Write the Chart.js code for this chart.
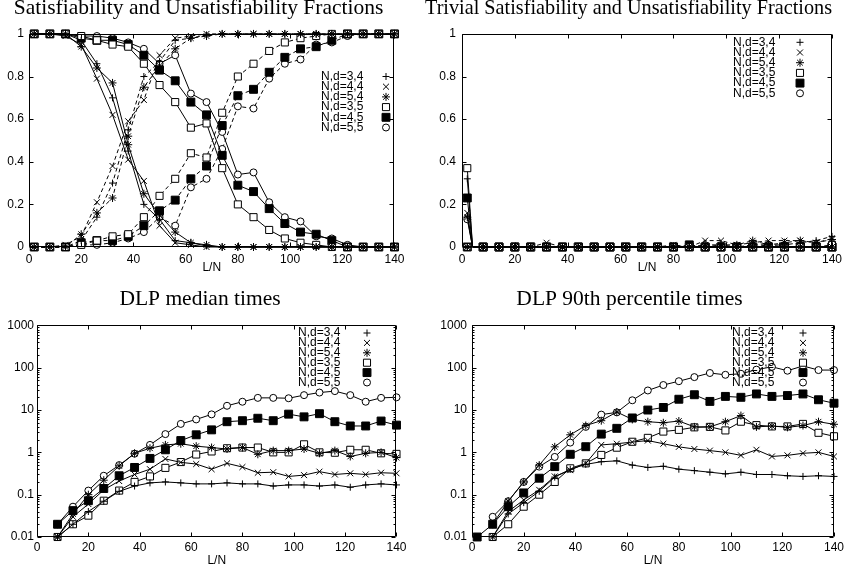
<!DOCTYPE html>
<html><head><meta charset="utf-8">
<script src="https://cdn.jsdelivr.net/npm/chart.js@4.4.1/dist/chart.umd.min.js"></script>
<style>
html,body{margin:0;padding:0;background:#fff;}
#wrap{position:relative;width:850px;height:567px;overflow:hidden;background:#fff;}
canvas{position:absolute;}
</style></head><body>
<div id="wrap">
<canvas id="c1" width="410" height="283" style="left:0;top:0"></canvas>
<canvas id="c2" width="425" height="283" style="left:425px;top:0"></canvas>
<canvas id="c3" width="410" height="284" style="left:0;top:283px"></canvas>
<canvas id="c4" width="425" height="284" style="left:425px;top:283px"></canvas>
</div>
<script>
// ---------- data ----------
const SERIES_LABELS = ['N,d=3,4','N,d=4,4','N,d=5,4','N,d=3,5','N,d=4,5','N,d=5,5'];
const LN = [2,8,14,20,26,32,38,44,50,56,62,68,74,80,86,92,98,104,110,116,122,128,134,140];
const LN_TRIV = [2,4,8,14,20,26,32,38,44,50,56,62,68,74,80,86,92,98,104,110,116,122,128,134,140];
const X_TICKS = [0,20,40,60,80,100,120,140];
const FRAC_TICKS = [0,0.2,0.4,0.6,0.8,1];
const LOG_TICKS = [0.01,0.1,1,10,100,1000];
const LOG_TICK_LABELS = ['0.01','0.1','1','10','100','1000'];

// Panel 1: satisfiability (solid) / unsatisfiability (dashed) fractions
const SAT_34   = [1,1,1,0.97,0.86,0.70,0.45,0.20,0.13,0.03,0.02,0.005,0,0,0,0,0,0,0,0,0,0,0,0];
const UNSAT_34 = [0,0,0,0.03,0.14,0.30,0.55,0.80,0.87,0.97,0.98,0.995,1,1,1,1,1,1,1,1,1,1,1,1];
const SAT_44   = [1,1,0.99,0.95,0.79,0.62,0.41,0.31,0.10,0.02,0.01,0,0,0,0,0,0,0,0,0,0,0,0,0];
const UNSAT_44 = [0,0,0.01,0.05,0.21,0.38,0.59,0.69,0.90,0.98,0.99,1,1,1,1,1,1,1,1,1,1,1,1,1];
const SAT_54   = [1,1,1,0.94,0.84,0.77,0.48,0.25,0.15,0.07,0.02,0.01,0,0,0,0,0,0,0,0,0,0,0,0];
const UNSAT_54 = [0,0,0,0.06,0.16,0.23,0.52,0.75,0.85,0.93,0.98,0.99,1,1,1,1,1,1,1,1,1,1,1,1];
const SAT_35   = [1,1,1,0.99,0.97,0.95,0.94,0.86,0.76,0.68,0.56,0.58,0.37,0.20,0.14,0.08,0.04,0.02,0.01,0,0,0,0,0];
const UNSAT_35 = [0,0,0,0.01,0.03,0.05,0.06,0.14,0.24,0.32,0.44,0.42,0.63,0.80,0.86,0.92,0.96,0.98,0.99,1,1,1,1,1];
const SAT_45   = [1,1,1,0.98,0.97,0.97,0.95,0.90,0.83,0.78,0.68,0.62,0.43,0.29,0.26,0.18,0.11,0.07,0.06,0.03,0,0,0,0];
const UNSAT_45 = [0,0,0,0.02,0.03,0.03,0.05,0.10,0.17,0.22,0.32,0.38,0.57,0.71,0.74,0.82,0.89,0.93,0.94,0.97,1,1,1,1];
const SAT_55   = [1,1,1,0.99,0.99,0.98,0.96,0.93,0.86,0.90,0.72,0.68,0.54,0.34,0.35,0.21,0.14,0.12,0.05,0.04,0.01,0,0,0];
const UNSAT_55 = [0,0,0,0.01,0.01,0.02,0.04,0.07,0.14,0.10,0.28,0.32,0.46,0.66,0.65,0.79,0.86,0.88,0.95,0.96,0.99,1,1,1];

// Panel 2: trivial satisfiability (solid, on LN_TRIV) / trivial unsatisfiability (dashed, on LN)
const TSAT_34 = [0.32,0,0,0,0,0,0,0,0,0,0,0,0,0,0,0,0,0,0,0,0,0,0,0,0];
const TSAT_44 = [0.16,0,0,0,0,0,0,0,0,0,0,0,0,0,0,0,0,0,0,0,0,0,0,0,0];
const TSAT_54 = [0.14,0,0,0,0,0,0,0,0,0,0,0,0,0,0,0,0,0,0,0,0,0,0,0,0];
const TSAT_35 = [0.37,0,0,0,0,0,0,0,0,0,0,0,0,0,0,0,0,0,0,0,0,0,0,0,0];
const TSAT_45 = [0.23,0,0,0,0,0,0,0,0,0,0,0,0,0,0,0,0,0,0,0,0,0,0,0,0];
const TSAT_55 = [0.13,0,0,0,0,0,0,0,0,0,0,0,0,0,0,0,0,0,0,0,0,0,0,0,0];
const TUNS_34 = [0,0,0,0,0,0,0,0,0,0,0,0,0,0,0,0,0.01,0,0.01,0.01,0.01,0.02,0.03,0.05];
const TUNS_44 = [0,0,0,0,0,0.02,0,0,0,0,0,0,0,0.01,0,0.03,0.03,0.01,0.02,0.03,0.03,0.03,0.02,0.04];
const TUNS_54 = [0,0,0,0,0,0,0,0,0,0,0,0,0,0,0,0.01,0.01,0.01,0.03,0.01,0.02,0.03,0.02,0.035];
const TUNS_35 = [0,0,0,0,0,0,0,0,0,0,0,0,0,0,0,0,0,0,0,0,0,0,0,0.01];
const TUNS_45 = [0,0,0,0,0,0,0,0,0,0,0,0,0,0,0.01,0,0,0,0,0,0,0,0,0];
const TUNS_55 = [0,0,0,0,0,0,0,0,0,0,0,0,0,0,0,0,0,0,0,0.01,0,0,0,0];

// Panel 3: DLP median times
const MED_34 = [null,0.01,0.02,0.04,0.07,0.12,0.16,0.19,0.20,0.19,0.18,0.18,0.19,0.18,0.18,0.16,0.17,0.17,0.16,0.17,0.15,0.17,0.18,0.17];
const MED_44 = [null,0.01,0.03,0.06,0.13,0.21,0.30,0.40,0.70,0.58,0.53,0.40,0.55,0.45,0.33,0.34,0.27,0.29,0.35,0.30,0.32,0.30,0.33,0.32];
const MED_54 = [null,0.01,0.035,0.10,0.22,0.48,0.95,1.25,1.5,1.6,1.4,1.3,1.2,1.3,0.9,1.1,1.1,1.2,0.95,1.1,0.8,0.95,1.0,0.75];
const MED_35 = [null,0.01,0.02,0.032,0.072,0.125,0.20,0.27,0.43,0.59,0.89,1.05,1.25,1.3,1.3,1.0,1.0,1.55,1.0,0.98,1.15,1.15,0.95,0.92];
const MED_45 = [null,0.02,0.042,0.072,0.14,0.28,0.44,0.72,1.15,1.9,2.6,3.4,5.3,5.6,6.4,5.6,8.0,6.9,8.2,5.3,4.2,4.2,5.5,4.4];
const MED_55 = [null,0.02,0.052,0.125,0.28,0.50,0.93,1.5,2.7,4.7,6.0,7.9,12.6,15.7,19.4,19.4,19,22.5,25.9,28,22.5,15.7,19.4,20];

// Panel 4: DLP 90th percentile times
const P90_34 = [null,0.01,0.035,0.065,0.12,0.26,0.40,0.52,0.60,0.63,0.50,0.44,0.47,0.40,0.37,0.34,0.31,0.34,0.30,0.30,0.28,0.27,0.28,0.27];
const P90_44 = [null,0.01,0.04,0.075,0.13,0.27,0.38,0.55,1.5,1.6,1.75,1.9,1.6,1.35,1.2,1.1,1.0,0.85,1.15,0.8,0.85,0.95,1.0,0.8];
const P90_54 = [null,0.02,0.07,0.2,0.5,1.35,2.6,4.3,5.6,9.0,6.0,5.3,5.0,5.5,4.0,4.0,5.3,7.4,4.0,4.2,3.9,4.3,5.3,4.6];
const P90_35 = [null,0.01,0.02,0.052,0.10,0.20,0.42,0.55,0.87,1.29,1.78,2.2,3.1,3.4,3.9,4.0,3.3,5.3,4.4,4.1,4.1,4.7,2.9,2.4];
const P90_45 = [0.01,0.02,0.052,0.11,0.245,0.46,0.9,1.36,2.7,3.7,6.5,10,11.5,18,23,16,21,20,24,21,22,24,17.5,14.5];
const P90_55 = [null,0.03,0.07,0.2,0.46,0.78,1.7,4.0,7.8,8.8,17,29,39,48,60,75,68,72,90,105,85,110,88,88];

// ---------- styles ----------
const SANS = '"Liberation Sans", Arial, Helvetica, sans-serif';
const SERIF = '"Liberation Serif", "Times New Roman", Times, serif';
const TEXT_SIZE = 12;
const MARKERS = [
  {style:'cross',    r:3.5, fill:'#000'},
  {style:'crossRot', r:4.2, fill:'#000'},
  {style:'star',     r:4,   fill:'#000'},
  {style:'rect',     r:5,   fill:'#fff'},
  {style:'rect',     r:5.6, fill:'#000'},
  {style:'circle',   r:3.5, fill:'#fff'}
];
const DASH = [4,3];

function isMarker(ctx){ return ctx.raw && ctx.raw.x !== undefined && (ctx.raw.x - 2) % 6 === 0; }

function series(xs, ys, i, extra){
  const m = MARKERS[i];
  return Object.assign({
    label: SERIES_LABELS[i],
    data: xs.map((x,k)=>({x:x, y:ys[k]})),
    borderColor:'#000', borderWidth:1, tension:0, fill:false, spanGaps:true, clip:false,
    pointStyle:m.style, pointRadius:(c)=>isMarker(c)?m.r:0, pointHoverRadius:(c)=>isMarker(c)?m.r:0,
    pointBackgroundColor:m.fill, pointBorderColor:'#000', pointBorderWidth:1,
    inLegend:false, legendRadius:m.r, legendFill:m.fill
  }, extra||{});
}

function drawSymbol(ctx, style, r, x, y, fill){
  ctx.save();
  ctx.fillStyle = fill; ctx.strokeStyle = '#000'; ctx.lineWidth = 1;
  ctx.beginPath();
  if (style === 'circle'){ ctx.arc(x,y,r,0,Math.PI*2); ctx.fill(); ctx.stroke(); ctx.restore(); return; }
  if (style === 'rect'){ const s=r*Math.SQRT1_2; ctx.rect(x-s,y-s,2*s,2*s); ctx.fill(); ctx.stroke(); ctx.restore(); return; }
  const plus = ()=>{ ctx.moveTo(x-r,y); ctx.lineTo(x+r,y); ctx.moveTo(x,y-r); ctx.lineTo(x,y+r); };
  const diag = ()=>{ const d=r*Math.SQRT1_2; ctx.moveTo(x-d,y-d); ctx.lineTo(x+d,y+d); ctx.moveTo(x-d,y+d); ctx.lineTo(x+d,y-d); };
  if (style === 'cross') plus(); else if (style === 'crossRot') diag(); else { plus(); diag(); }
  ctx.stroke(); ctx.restore();
}

// gnuplot-like frame with inward tick marks
const framePlugin = {
  id:'gnuframe',
  afterDatasetsDraw(chart){
    const {ctx, chartArea:a, scales} = chart;
    const L = Math.round(a.left)+0.5, R = Math.round(a.right)-0.5, T = Math.round(a.top)+0.5, B = Math.round(a.bottom)-0.5;
    ctx.save();
    ctx.strokeStyle = '#000'; ctx.lineWidth = 1;
    ctx.beginPath();
    const MAJ = 4, MIN = 2;
    scales.x.ticks.forEach(t=>{
      const px = Math.round(scales.x.getPixelForValue(t.value))+0.5;
      ctx.moveTo(px,B); ctx.lineTo(px,B-MAJ);
      ctx.moveTo(px,T); ctx.lineTo(px,T+MAJ);
    });
    const ys = scales.y;
    ys.ticks.forEach(t=>{
      const py = Math.round(ys.getPixelForValue(t.value))+0.5;
      ctx.moveTo(L,py); ctx.lineTo(L+MAJ,py);
      ctx.moveTo(R,py); ctx.lineTo(R-MAJ,py);
    });
    if (ys.type === 'logarithmic'){
      for (let e=-2; e<3; e++){
        for (let k=2; k<10; k++){
          const py = Math.round(ys.getPixelForValue(k*Math.pow(10,e)))+0.5;
          ctx.moveTo(L,py); ctx.lineTo(L+MIN,py);
          ctx.moveTo(R,py); ctx.lineTo(R-MIN,py);
        }
      }
    }
    ctx.stroke();
    ctx.beginPath();
    ctx.rect(L,T,R-L,B-T);
    ctx.stroke();
    ctx.restore();
  }
};

// gnuplot-like key: text left, symbol right, inside plot
const keyPlugin = {
  id:'gnukey',
  afterDraw(chart, args, o){
    const ctx = chart.ctx;
    ctx.save();
    ctx.font = TEXT_SIZE + 'px ' + SANS;
    ctx.fillStyle = '#000'; ctx.textAlign = 'left'; ctx.textBaseline = 'middle';
    chart.data.datasets.filter(d=>d.inLegend).forEach((d,i)=>{
      const y = o.y + i*o.dy;
      ctx.fillText(d.label, o.x, y);
      drawSymbol(ctx, d.pointStyle, d.legendRadius, o.symX, y, d.legendFill);
    });
    ctx.restore();
  }
};

function makeOptions(p){
  const tickFont = {family:SANS, size:TEXT_SIZE};
  const noGrid = {display:false, drawTicks:false, tickLength:0};
  const yScale = p.log ? {
    type:'logarithmic', min:0.01, max:1000,
    afterBuildTicks:(s)=>{ s.ticks = LOG_TICKS.map(v=>({value:v})); },
    afterFit:(s)=>{ s.width = p.yW; },
    grid:noGrid, border:{display:false},
    ticks:{color:'#000', padding:p.yPad, font:tickFont, autoSkip:false,
      callback:(v,i)=>LOG_TICK_LABELS[i]}
  } : {
    type:'linear', min:0, max:1,
    afterBuildTicks:(s)=>{ s.ticks = FRAC_TICKS.map(v=>({value:v})); },
    afterFit:(s)=>{ s.width = p.yW; },
    grid:noGrid, border:{display:false},
    ticks:{color:'#000', padding:p.yPad, font:tickFont, autoSkip:false,
      callback:(v)=>String(v)}
  };
  return {
    responsive:false, animation:false, devicePixelRatio:1, events:[],
    layout:{padding:{left:0, right:p.padR, top:0, bottom:0}},
    plugins:{
      legend:{display:false}, tooltip:{enabled:false},
      title:{display:true, text:p.title, color:'#000',
        font:{family:SERIF, size:21.5, weight:'normal', lineHeight:0.8},
        padding:{top:p.tTop, bottom:p.tBot}},
      gnukey:p.key
    },
    scales:{
      x:{type:'linear', min:0, max:140,
        afterBuildTicks:(s)=>{ s.ticks = X_TICKS.map(v=>({value:v})); },
        afterFit:(s)=>{ s.height = p.xH; },
        grid:noGrid, border:{display:false},
        ticks:{color:'#000', padding:p.xPad, font:tickFont, autoSkip:false, maxRotation:0,
          callback:(v)=>String(v)},
        title:{display:true, text:'L/N', color:'#000',
          font:{family:SANS, size:TEXT_SIZE, lineHeight:1}, padding:{top:0, bottom:p.xTitlePad}}
      },
      y:yScale
    }
  };
}

// ---------- panel 1 ----------
const sat = [SAT_34,SAT_44,SAT_54,SAT_35,SAT_45,SAT_55];
const uns = [UNSAT_34,UNSAT_44,UNSAT_54,UNSAT_35,UNSAT_45,UNSAT_55];
const ds1 = [];
for (let i=0;i<6;i++){
  ds1.push(series(LN, sat[i], i, {inLegend:true}));
  ds1.push(series(LN, uns[i], i, {borderDash:DASH}));
}
new Chart(document.getElementById('c1'), {
  type:'line', data:{datasets:ds1}, plugins:[framePlugin,keyPlugin],
  options:makeOptions({title:'Satisfiability and Unsatisfiability Fractions', log:false,
    yW:29, yPad:5, padR:13, tTop:0, tBot:16.7, xH:36, xPad:5.5, xTitlePad:9,
    key:{x:321, y:76.5, dy:10.2, symX:386}})
});

// ---------- panel 2 ----------
const tsat = [TSAT_34,TSAT_44,TSAT_54,TSAT_35,TSAT_45,TSAT_55];
const tuns = [TUNS_34,TUNS_44,TUNS_54,TUNS_35,TUNS_45,TUNS_55];
const ds2 = [];
for (let i=0;i<6;i++){
  ds2.push(series(LN, tuns[i], i, {borderDash:DASH}));
  ds2.push(series(LN_TRIV, tsat[i], i, {inLegend:true}));
}
new Chart(document.getElementById('c2'), {
  type:'line', data:{datasets:ds2}, plugins:[framePlugin,keyPlugin],
  options:makeOptions({title:'Trivial Satisfiability and Unsatisfiability Fractions', log:false,
    yW:37, yPad:6, padR:18, tTop:0, tBot:16.7, xH:36, xPad:5.5, xTitlePad:9,
    key:{x:308, y:42.3, dy:10.2, symX:375}})
});

// ---------- panel 3 ----------
const med = [MED_34,MED_44,MED_54,MED_35,MED_45,MED_55];
new Chart(document.getElementById('c3'), {
  type:'line', data:{datasets:med.map((a,i)=>series(LN, a, i, {inLegend:true}))}, plugins:[framePlugin,keyPlugin],
  options:makeOptions({title:'DLP median times', log:true,
    yW:37, yPad:3, padR:10, tTop:7.6, tBot:17.6, xH:30, xPad:3.5, xTitlePad:0,
    key:{x:298, y:50, dy:9.9, symX:367}})
});

// ---------- panel 4 ----------
const p90 = [P90_34,P90_44,P90_54,P90_35,P90_45,P90_55];
new Chart(document.getElementById('c4'), {
  type:'line', data:{datasets:p90.map((a,i)=>series(LN, a, i, {inLegend:true}))}, plugins:[framePlugin,keyPlugin],
  options:makeOptions({title:'DLP 90th percentile times', log:true,
    yW:47, yPad:5, padR:16, tTop:7.6, tBot:17.6, xH:30, xPad:3.5, xTitlePad:0,
    key:{x:307, y:50, dy:9.9, symX:378}})
});
</script>
</body></html>
